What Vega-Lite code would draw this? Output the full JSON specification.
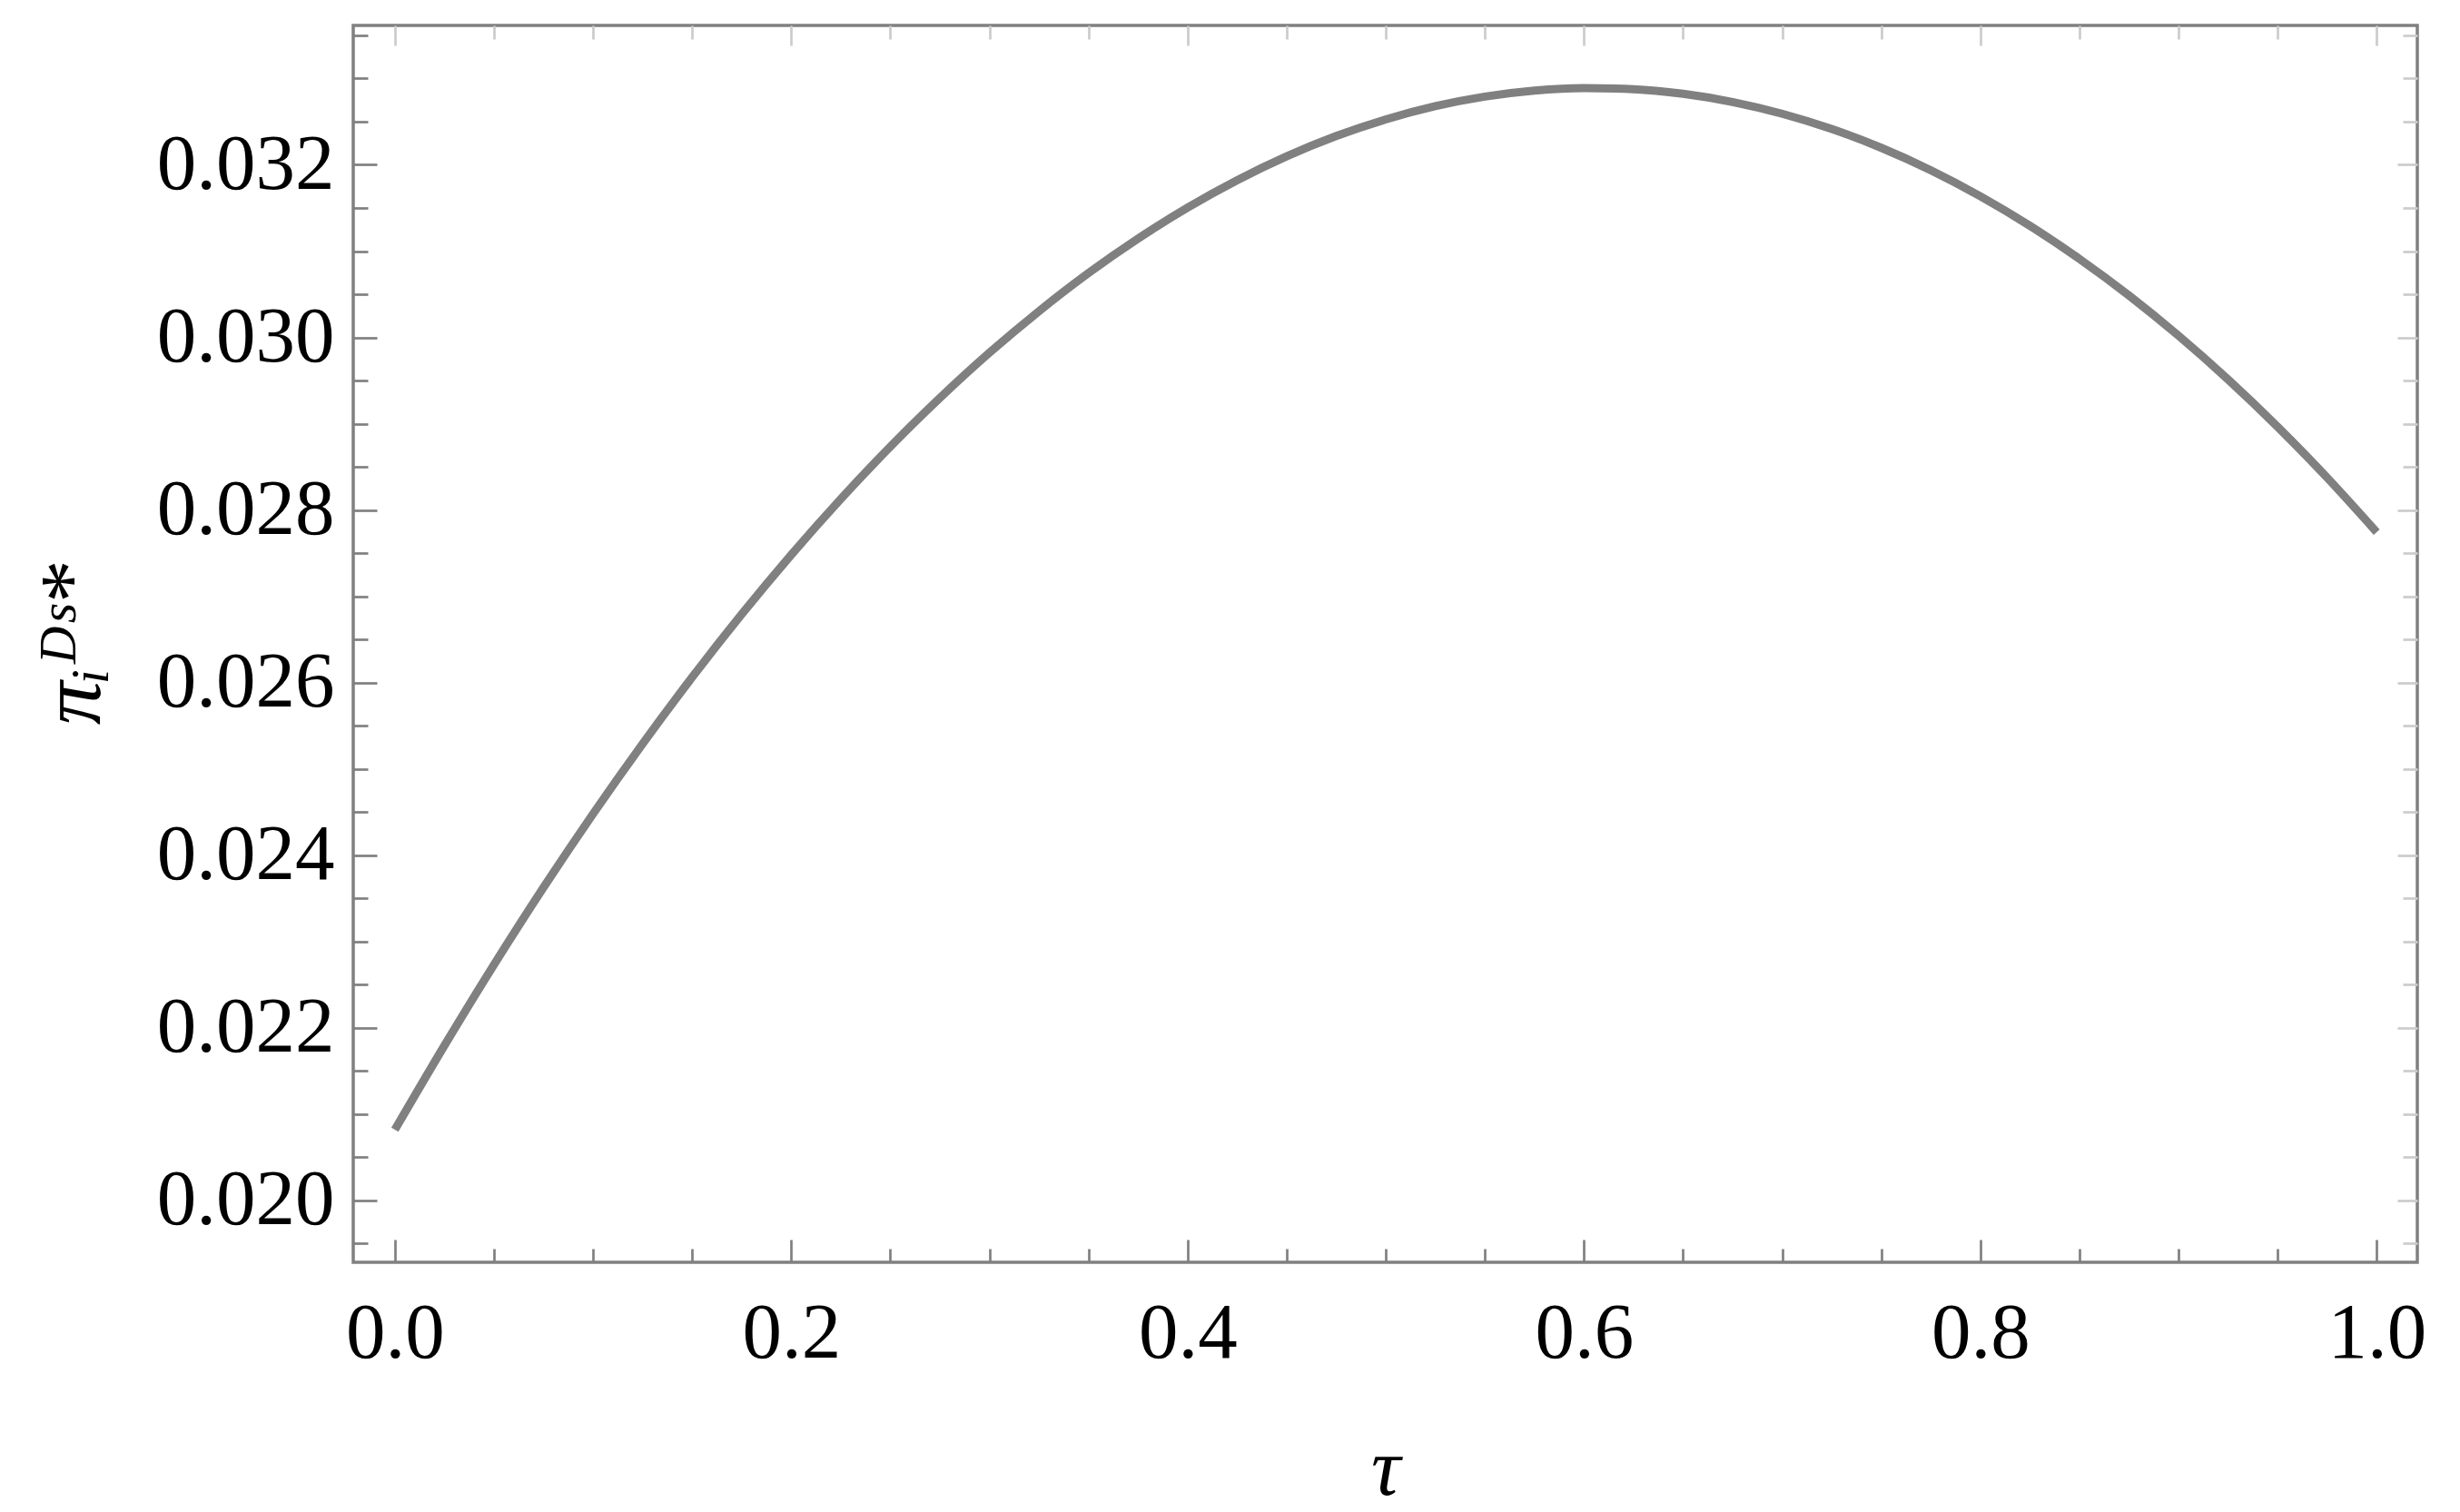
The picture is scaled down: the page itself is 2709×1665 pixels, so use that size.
{
  "$schema": "https://vega.github.io/schema/vega-lite/v6.json",
  "autosize": {"type": "none"},
  "width": 2273,
  "height": 1362,
  "padding": {"left": 389, "top": 28, "right": 47, "bottom": 275},
  "background": "white",
  "config": {
    "view": {"stroke": "#808080", "strokeWidth": 3.5},
    "axis": {"grid": false, "domain": false, "labelLimit": 0}
  },
  "data": {
    "values": [
      {"tau": 0.0, "pi": 0.02082},
      {"tau": 0.025, "pi": 0.021795},
      {"tau": 0.05, "pi": 0.022732},
      {"tau": 0.075, "pi": 0.023626},
      {"tau": 0.1, "pi": 0.024479},
      {"tau": 0.125, "pi": 0.025291},
      {"tau": 0.15, "pi": 0.026062},
      {"tau": 0.175, "pi": 0.026792},
      {"tau": 0.2, "pi": 0.027481},
      {"tau": 0.225, "pi": 0.028128},
      {"tau": 0.25, "pi": 0.028734},
      {"tau": 0.275, "pi": 0.029298},
      {"tau": 0.3, "pi": 0.029822},
      {"tau": 0.325, "pi": 0.030304},
      {"tau": 0.35, "pi": 0.030746},
      {"tau": 0.375, "pi": 0.031145},
      {"tau": 0.4, "pi": 0.031504},
      {"tau": 0.425, "pi": 0.031821},
      {"tau": 0.45, "pi": 0.032098},
      {"tau": 0.475, "pi": 0.032333},
      {"tau": 0.5, "pi": 0.032526},
      {"tau": 0.525, "pi": 0.032679},
      {"tau": 0.55, "pi": 0.03279},
      {"tau": 0.575, "pi": 0.03286},
      {"tau": 0.6, "pi": 0.032889},
      {"tau": 0.625, "pi": 0.032877},
      {"tau": 0.65, "pi": 0.032823},
      {"tau": 0.675, "pi": 0.032728},
      {"tau": 0.7, "pi": 0.032592},
      {"tau": 0.725, "pi": 0.032415},
      {"tau": 0.75, "pi": 0.032197},
      {"tau": 0.775, "pi": 0.031937},
      {"tau": 0.8, "pi": 0.031636},
      {"tau": 0.825, "pi": 0.031294},
      {"tau": 0.85, "pi": 0.03091},
      {"tau": 0.875, "pi": 0.030486},
      {"tau": 0.9, "pi": 0.03002},
      {"tau": 0.925, "pi": 0.029513},
      {"tau": 0.95, "pi": 0.028965},
      {"tau": 0.975, "pi": 0.028375},
      {"tau": 1.0, "pi": 0.027744}
    ]
  },
  "layer": [
    {
      "mark": {"type": "line", "color": "#808080", "strokeWidth": 9, "interpolate": "monotone"},
      "encoding": {
        "x": {
          "field": "tau",
          "type": "quantitative",
          "scale": {"domain": [-0.021, 1.0205], "nice": false, "zero": false},
          "axis": {
            "orient": "bottom",
            "values": [0, 0.05, 0.1, 0.15, 0.2, 0.25, 0.3, 0.35, 0.4, 0.45, 0.5, 0.55, 0.6, 0.65, 0.7, 0.75, 0.8, 0.85, 0.9, 0.95, 1.0],
            "labelExpr": "abs(datum.value*5 - round(datum.value*5)) < 1e-6 ? format(datum.value, '.1f') : ''",
            "tickSize": {"condition": {"test": "abs(datum.value*5 - round(datum.value*5)) < 1e-6", "value": -25}, "value": -15},
            "tickColor": "#808080",
            "tickWidth": 2.7,
            "labelFont": "Liberation Serif",
            "labelFontSize": 87,
            "labelColor": "#000000",
            "labelPadding": 60,
            "labelFlush": false,
            "labelOverlap": false,
            "title": "τ",
            "titleFont": "Liberation Serif",
            "titleFontStyle": "italic",
            "titleFontWeight": "normal",
            "titleFontSize": 90,
            "titleColor": "#000000",
            "titlePadding": 53
          }
        },
        "y": {
          "field": "pi",
          "type": "quantitative",
          "scale": {"domain": [0.019284, 0.033615], "nice": false, "zero": false},
          "axis": {
            "orient": "left",
            "values": [0.0195, 0.02, 0.0205, 0.021, 0.0215, 0.022, 0.0225, 0.023, 0.0235, 0.024, 0.0245, 0.025, 0.0255, 0.026, 0.0265, 0.027, 0.0275, 0.028, 0.0285, 0.029, 0.0295, 0.03, 0.0305, 0.031, 0.0315, 0.032, 0.0325, 0.033, 0.0335],
            "labelExpr": "abs(datum.value*500 - round(datum.value*500)) < 1e-6 ? format(datum.value, '.3f') : ''",
            "tickSize": {"condition": {"test": "abs(datum.value*500 - round(datum.value*500)) < 1e-6", "value": -26}, "value": -16},
            "tickColor": "#808080",
            "tickWidth": 2.7,
            "labelFont": "Liberation Serif",
            "labelFontSize": 87,
            "labelColor": "#000000",
            "labelPadding": 47,
            "labelFlush": false,
            "labelOverlap": false,
            "title": "πᵢᴰˢ*",
            "titleFont": "Liberation Serif, DejaVu Serif",
            "titleFontStyle": "italic",
            "titleFontWeight": "normal",
            "titleFontSize": 96,
            "titleColor": "#000000",
            "titlePadding": 60
          }
        }
      }
    },
    {
      "mark": {"type": "line", "opacity": 0},
      "encoding": {
        "x": {
          "field": "tau",
          "type": "quantitative",
          "axis": {
            "orient": "top",
            "values": [0, 0.05, 0.1, 0.15, 0.2, 0.25, 0.3, 0.35, 0.4, 0.45, 0.5, 0.55, 0.6, 0.65, 0.7, 0.75, 0.8, 0.85, 0.9, 0.95, 1.0],
            "labels": false,
            "tickSize": {"condition": {"test": "abs(datum.value*5 - round(datum.value*5)) < 1e-6", "value": -22}, "value": -15},
            "tickColor": "#cccccc",
            "tickWidth": 2.7,
            "title": null
          }
        },
        "y": {
          "field": "pi",
          "type": "quantitative",
          "axis": {
            "orient": "right",
            "values": [0.0195, 0.02, 0.0205, 0.021, 0.0215, 0.022, 0.0225, 0.023, 0.0235, 0.024, 0.0245, 0.025, 0.0255, 0.026, 0.0265, 0.027, 0.0275, 0.028, 0.0285, 0.029, 0.0295, 0.03, 0.0305, 0.031, 0.0315, 0.032, 0.0325, 0.033, 0.0335],
            "labels": false,
            "tickSize": {"condition": {"test": "abs(datum.value*500 - round(datum.value*500)) < 1e-6", "value": -22}, "value": -16},
            "tickColor": "#cccccc",
            "tickWidth": 2.7,
            "title": null
          }
        }
      }
    }
  ],
  "resolve": {"axis": {"x": "independent", "y": "independent"}}
}
